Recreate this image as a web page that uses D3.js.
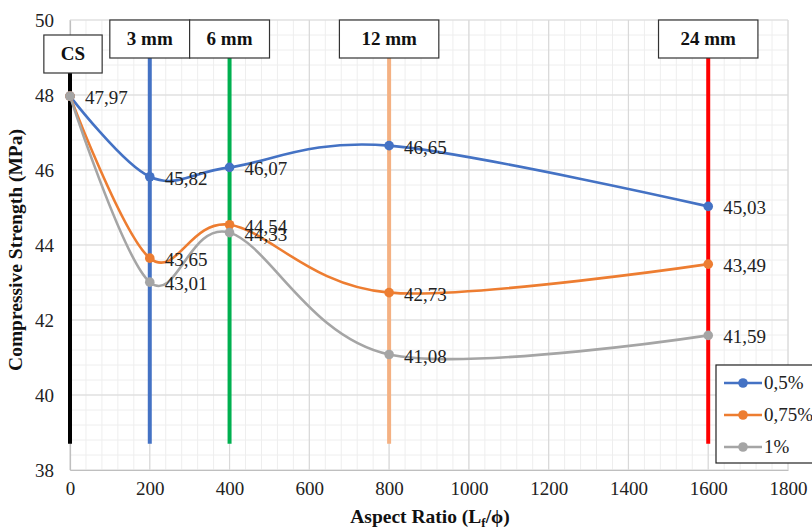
<!DOCTYPE html>
<html><head><meta charset="utf-8">
<script src="https://cdn.jsdelivr.net/npm/d3@7"></script>
<style>body{margin:0;background:#fff}svg{display:block}
svg text{font-family:"Liberation Serif","Times New Roman",serif !important;}</style>
</head><body>
<svg id="c" width="812" height="531"></svg>
<script>
// ---- data ----
const aspectRatios = [0, 200, 400, 800, 1600];
const seriesNames = ["0,5%", "0,75%", "1%"];
const s05 = [47.97, 45.82, 46.07, 46.65, 45.03];
const s075 = [47.97, 43.65, 44.54, 42.73, 43.49];
const s1 = [47.97, 43.01, 44.33, 41.08, 41.59];
const fibreLabels = ["CS", "3 mm", "6 mm", "12 mm", "24 mm"];
const xTicks = [0, 200, 400, 600, 800, 1000, 1200, 1400, 1600, 1800];
const yTicks = [38, 40, 42, 44, 46, 48, 50];

// ---- styles ----
const seriesColors = ["#4472C4", "#ED7D31", "#A5A5A5"];
const fibreColors = ["#000000", "#4472C4", "#00B050", "#F4B183", "#FF0000"];
const serif = "Liberation Serif";
const fs = 19;

const svg = d3.select("#c");
const x = d3.scaleLinear().domain([0, 1800]).range([70, 788]);
const y = d3.scaleLinear().domain([38, 50]).range([470, 20]);

// minor grid
const g = svg.append("g");
const minorX = d3.range(0, 1801, 40);
const minorY = d3.range(38, 50.001, 0.4);
g.selectAll(".mx").data(minorX).enter().append("line")
  .attr("x1", d => x(d)).attr("x2", d => x(d)).attr("y1", y(38)).attr("y2", y(50))
  .attr("stroke", "#eeeeee").attr("stroke-width", 1);
g.selectAll(".my").data(minorY).enter().append("line")
  .attr("y1", d => y(d)).attr("y2", d => y(d)).attr("x1", x(0)).attr("x2", x(1800))
  .attr("stroke", "#eeeeee").attr("stroke-width", 1);
// major grid
g.selectAll(".Mx").data(xTicks).enter().append("line")
  .attr("x1", d => x(d)).attr("x2", d => x(d)).attr("y1", y(38)).attr("y2", y(50))
  .attr("stroke", "#d9d9d9").attr("stroke-width", 1.2);
g.selectAll(".My").data(yTicks).enter().append("line")
  .attr("y1", d => y(d)).attr("y2", d => y(d)).attr("x1", x(0)).attr("x2", x(1800))
  .attr("stroke", "#d9d9d9").attr("stroke-width", 1.2);

// axes
const xAxis = d3.axisBottom(x).tickValues(xTicks).tickFormat(d3.format("d")).tickSize(0).tickPadding(12);
const yAxis = d3.axisLeft(y).tickValues(yTicks).tickFormat(d3.format("d")).tickSize(0).tickPadding(16);
const gx = svg.append("g").attr("transform", `translate(0,${y(38)})`).call(xAxis);
const gy = svg.append("g").attr("transform", `translate(${x(0)},0)`).call(yAxis);
[gx, gy].forEach(a => {
  a.attr("font-family", null).attr("font-size", null);
  a.select(".domain").attr("stroke", "#bfbfbf").attr("stroke-width", 1.2);
  a.selectAll("text").attr("font-family", serif).attr("font-size", fs).attr("fill", "#222");
});

// fibre length markers (vertical lines)
const boxTop = [35, 20, 20, 20, 20];
const boxH = 38;
fibreLabels.forEach((lab, i) => {
  const cx = x(aspectRatios[i]);
  const top = boxTop[i] + boxH;
  svg.append("line").attr("x1", cx).attr("x2", cx).attr("y1", top).attr("y2", y(38.7))
    .attr("stroke", fibreColors[i]).attr("stroke-width", 4);
});

// series
const allSeries = [s05, s075, s1];
const line = d3.line().x((d, i) => x(aspectRatios[i])).y(d => y(d)).curve(d3.curveCardinal.tension(0));
allSeries.forEach((s, k) => {
  svg.append("path").datum(s).attr("d", line).attr("fill", "none")
    .attr("stroke", seriesColors[k]).attr("stroke-width", 2.6);
});
allSeries.forEach((s, k) => {
  svg.selectAll(".pt" + k).data(s).enter().append("circle")
    .attr("cx", (d, i) => x(aspectRatios[i])).attr("cy", d => y(d)).attr("r", 4.8)
    .attr("fill", seriesColors[k]);
});
// data labels (first point shared -> label once)
allSeries.forEach((s, k) => {
  svg.selectAll(".lb" + k).data(s.map((v, i) => ({v, i})).filter(d => !(k > 0 && d.i === 0)))
    .enter().append("text")
    .attr("x", d => x(aspectRatios[d.i]) + 15).attr("y", d => y(d.v) + 8)
    .attr("font-family", serif).attr("font-size", fs).attr("fill", "#222")
    .text(d => d.v.toFixed(2).replace(".", ","));
});

// boxes on top
fibreLabels.forEach((lab, i) => {
  const cx = x(aspectRatios[i]) + (i === 0 ? 3 : 0);
  const t = svg.append("text").attr("x", cx).attr("y", boxTop[i] + boxH / 2 + 6)
    .attr("text-anchor", "middle").attr("font-family", serif).attr("font-weight", "bold")
    .attr("font-size", fs).attr("fill", "#111").text(lab);
  const w = t.node().getComputedTextLength();
  const pad = lab.length > 4 ? 22 : 17;
  svg.insert("rect", () => t.node())
    .attr("x", cx - w / 2 - pad).attr("y", boxTop[i])
    .attr("width", w + 2 * pad).attr("height", boxH)
    .attr("fill", "#fff").attr("stroke", "#333").attr("stroke-width", 1.2);
});

// axis titles
svg.append("text").attr("transform", `translate(22,${(y(38) + y(50)) / 2 + 5}) rotate(-90)`)
  .attr("text-anchor", "middle").attr("font-family", serif).attr("font-weight", "bold")
  .attr("font-size", 19.5).attr("fill", "#111").text("Compressive Strength (MPa)");
const xt = svg.append("text").attr("x", 430).attr("y", 523)
  .attr("text-anchor", "middle").attr("font-family", serif).attr("font-weight", "bold")
  .attr("font-size", 19.5).attr("fill", "#111");
xt.append("tspan").text("Aspect Ratio (L");
xt.append("tspan").attr("font-size", 13).attr("dy", 4).text("f");
xt.append("tspan").attr("dy", -4).text("/ϕ)");

// legend
const lg = svg.append("g");
lg.append("rect").attr("x", 716).attr("y", 365).attr("width", 110).attr("height", 98)
  .attr("fill", "#fff").attr("stroke", "#222").attr("stroke-width", 1.2);
seriesNames.forEach((n, k) => {
  const ly = 383 + k * 32;
  lg.append("line").attr("x1", 724).attr("x2", 762).attr("y1", ly).attr("y2", ly)
    .attr("stroke", seriesColors[k]).attr("stroke-width", 2.6);
  lg.append("circle").attr("cx", 743).attr("cy", ly).attr("r", 4.8).attr("fill", seriesColors[k]);
  lg.append("text").attr("x", 764).attr("y", ly + 6).attr("font-family", serif)
    .attr("font-size", fs).attr("fill", "#222").text(n);
});
</script>
</body></html>
